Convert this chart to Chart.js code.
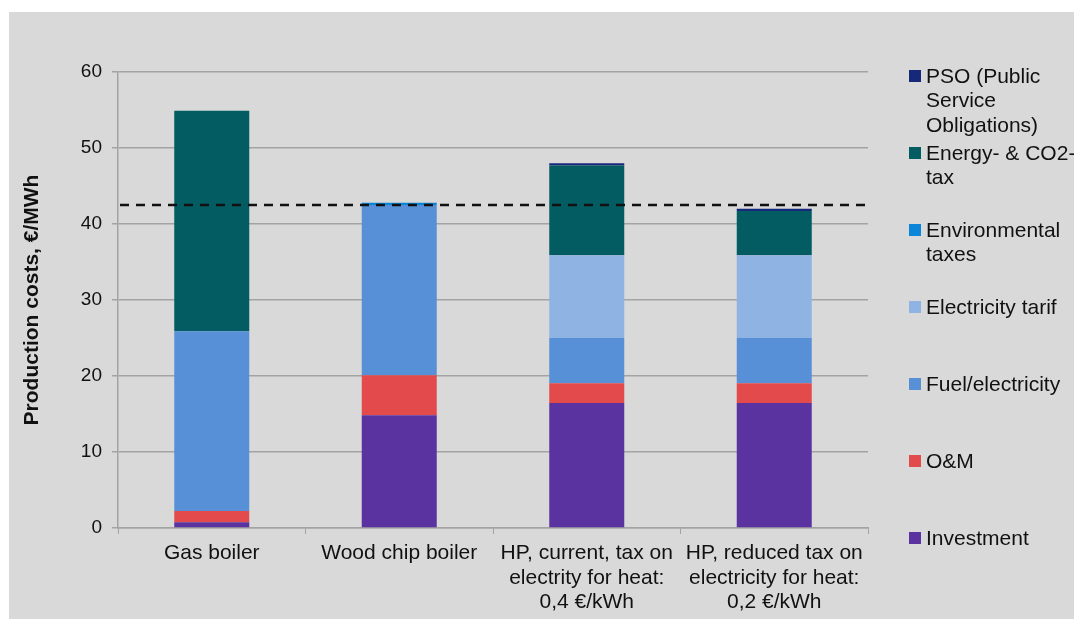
<!DOCTYPE html>
<html>
<head>
<meta charset="utf-8">
<script src="https://cdn.jsdelivr.net/npm/chart.js@4/dist/chart.umd.min.js"></script>
<style>
    body { margin: 0; background: #ffffff; }
    #wrap {
        position: absolute; left: 9px; top: 12px; width: 1065px; height: 607px;
        background: #d9d9d9; overflow: hidden;
        font-family: "Liberation Sans", Arial, sans-serif;
    }
    #legend { position: absolute; left: 900px; top: 0; }
    .item { position: absolute; left: 0; white-space: nowrap; font-size: 21px; line-height: 24.5px; color: #111; }
    .item .box { position: absolute; left: 0; top: 6px; width: 12px; height: 12px; }
    .item .txt { position: absolute; left: 17px; top: 0; }
</style>
</head>
<body>
<div id="wrap">
    <canvas id="chart"></canvas>
    <div id="legend"></div>
</div>
<script>
// Categories (x axis)
const categories = [
    'Gas boiler',
    'Wood chip boiler',
    ['HP, current, tax on', 'electrity for heat:', '0,4 €/kWh'],
    ['HP, reduced tax on', 'electricity for heat:', '0,2 €/kWh']
];

// Stacked components, €/MWh (bottom to top)
const investment = [0.75, 14.85, 16.45, 16.45];
const om = [1.5, 5.25, 2.6, 2.6];
const fuel = [23.65, 22.4, 5.95, 5.95];
const elecTarif = [0, 0, 10.9, 10.9];
const envTaxes = [0, 0.3, 0, 0];
const energyTax = [29.0, 0, 11.8, 5.8];
const pso = [0, 0, 0.3, 0.3];

// Reference level (dashed line)
const referenceLevel = 42.5;

const seriesNames = [
    ['Investment'],
    ['O&M'],
    ['Fuel/electricity'],
    ['Electricity tarif'],
    ['Environmental', 'taxes'],
    ['Energy- & CO2-', 'tax'],
    ['PSO (Public', 'Service', 'Obligations)']
];
const seriesData = [investment, om, fuel, elecTarif, envTaxes, energyTax, pso];
const seriesColors = ['#5b33a1', '#e34a4b', '#5790d6', '#8fb4e3', '#0a85d9', '#035c62', '#16287a'];

const yTicks = [0, 10, 20, 30, 40, 50, 60];

const FONT = '"Liberation Sans", Arial, sans-serif';
const GRID = '#a3a3a3';

const dashedLine = {
    id: 'dashedLine',
    afterDatasetsDraw(chart) {
        const { ctx, chartArea, scales } = chart;
        const y = scales.y.getPixelForValue(referenceLevel);
        ctx.save();
        ctx.strokeStyle = '#111';
        ctx.lineWidth = 2.5;
        ctx.setLineDash([9, 7]);
        ctx.beginPath();
        ctx.moveTo(chartArea.left + 2, y);
        ctx.lineTo(chartArea.right, y);
        ctx.stroke();
        ctx.restore();
    }
};

const ctx = document.getElementById('chart').getContext('2d');
new Chart(ctx, {
    type: 'bar',
    data: {
        labels: categories,
        datasets: seriesData.map((d, i) => ({
            label: seriesNames[i].join(' '),
            data: d,
            backgroundColor: seriesColors[i],
            borderWidth: 0,
            barPercentage: 0.4,
            categoryPercentage: 1.0
        }))
    },
    options: {
        responsive: true,
        maintainAspectRatio: false,
        animation: false,
        layout: { padding: { top: 60, right: 206, bottom: 0, left: 0 } },
        plugins: {
            legend: { display: false },
            tooltip: { enabled: false }
        },
        scales: {
            x: {
                stacked: true,
                afterFit: s => { s.height = 91; },
                grid: {
                    offset: true,
                    drawOnChartArea: false,
                    drawTicks: true,
                    tickLength: 6,
                    color: GRID
                },
                border: { display: true, color: GRID, width: 1.5 },
                ticks: {
                    color: '#111',
                    padding: 7,
                    maxRotation: 0,
                    autoSkip: false,
                    font: { family: FONT, size: 21, lineHeight: 1.167 }
                }
            },
            y: {
                stacked: true,
                min: 0,
                max: 60,
                afterFit: s => { s.width = 109; },
                afterBuildTicks: s => { s.ticks = yTicks.map(v => ({ value: v })); },
                grid: { color: GRID, lineWidth: 1.5, tickLength: 6 },
                border: { display: true, color: GRID, width: 1.5 },
                ticks: {
                    color: '#111',
                    padding: 10,
                    font: { family: FONT, size: 19 }
                },
                title: {
                    display: true,
                    text: 'Production costs, €/MWh',
                    color: '#111',
                    padding: { top: 11, bottom: 0 },
                    font: { family: FONT, size: 21, weight: 'bold' }
                }
            }
        }
    },
    plugins: [dashedLine]
});

// Legend on the right, top item = top of the stack
const legend = document.getElementById('legend');
const order = seriesNames.map((_, i) => i).reverse();
order.forEach((idx, k) => {
    const item = document.createElement('div');
    item.className = 'item';
    item.style.top = (64 + k * 77 - 12.25) + 'px';
    const box = document.createElement('span');
    box.className = 'box';
    box.style.background = seriesColors[idx];
    const txt = document.createElement('span');
    txt.className = 'txt';
    txt.innerHTML = seriesNames[idx].map(s => s.replace('&', '&amp;')).join('<br>');
    item.appendChild(box);
    item.appendChild(txt);
    legend.appendChild(item);
});
</script>
</body>
</html>
